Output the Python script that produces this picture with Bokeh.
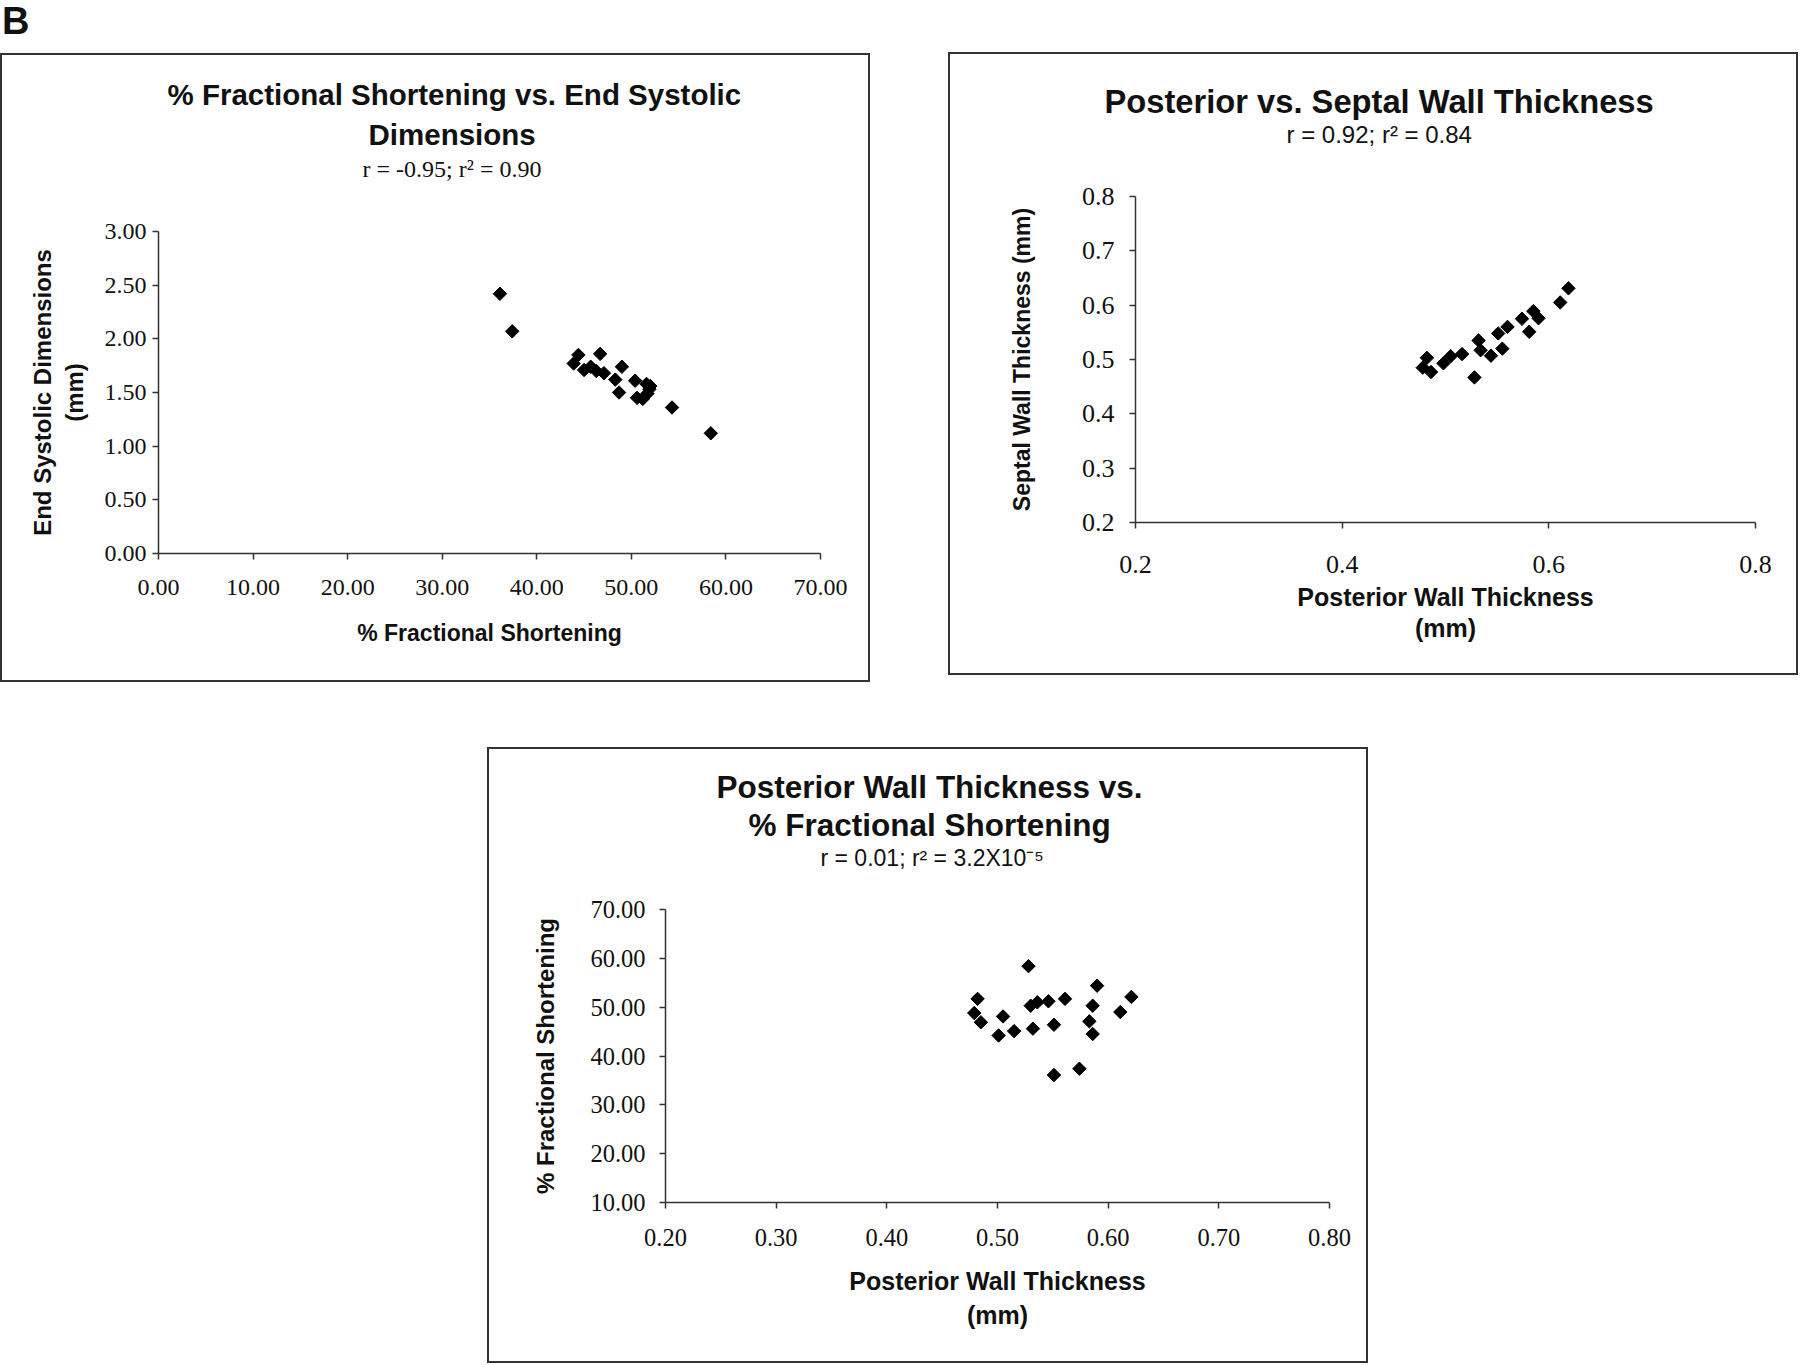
import math
from bokeh.plotting import figure
from bokeh.models import (Range1d, FixedTicker, PrintfTickFormatter, Title, Div,
                          Spacer, LinearAxis)
from bokeh.layouts import row, column
from bokeh.embed import file_html
from bokeh.resources import INLINE

# ---------------- data ----------------
# Chart 1: % Fractional Shortening vs End Systolic Dimensions
fs_1 = [36.1, 37.4, 43.9, 44.4, 45.0, 45.7, 46.3, 46.7, 47.1, 48.3, 48.7,
        49.0, 50.4, 50.6, 51.2, 51.6, 51.9, 51.7, 52.0, 54.3, 58.4]
esd_1 = [2.42, 2.07, 1.77, 1.85, 1.71, 1.74, 1.70, 1.86, 1.68, 1.62, 1.50,
         1.74, 1.61, 1.45, 1.44, 1.58, 1.53, 1.49, 1.56, 1.36, 1.12]

# Chart 2: Posterior vs Septal wall thickness
pwt_2 = [0.482, 0.478, 0.486, 0.498, 0.505, 0.516, 0.528, 0.532, 0.534, 0.544,
         0.551, 0.555, 0.560, 0.574, 0.585, 0.590, 0.581, 0.611, 0.619]
swt_2 = [0.503, 0.485, 0.477, 0.493, 0.506, 0.510, 0.467, 0.535, 0.517, 0.507,
         0.548, 0.520, 0.560, 0.575, 0.589, 0.576, 0.551, 0.605, 0.631]

# Chart 3: Posterior wall thickness vs % fractional shortening
pwt_3 = [0.528, 0.482, 0.479, 0.485, 0.505, 0.501, 0.515, 0.530, 0.536, 0.532,
         0.546, 0.551, 0.551, 0.561, 0.574, 0.583, 0.586, 0.586, 0.590, 0.611, 0.621]
fs_3 = [58.4, 51.7, 48.8, 46.9, 48.1, 44.2, 45.1, 50.3, 51.0, 45.6,
        51.2, 46.4, 36.1, 51.7, 37.4, 47.1, 44.5, 50.3, 54.4, 49.0, 52.1]

x1_ticks = [0, 10, 20, 30, 40, 50, 60, 70]
y1_ticks = [0.0, 0.5, 1.0, 1.5, 2.0, 2.5, 3.0]
x2_ticks = [0.2, 0.4, 0.6, 0.8]
y2_ticks = [0.2, 0.3, 0.4, 0.5, 0.6, 0.7, 0.8]
x3_ticks = [0.2, 0.3, 0.4, 0.5, 0.6, 0.7, 0.8]
y3_ticks = [10, 20, 30, 40, 50, 60, 70]

SANS = "Liberation Sans"
SERIF = "Liberation Serif"
BOX = {"outline": "2px solid #333", "outline-offset": "-2px"}


def make_fig(w, h, bl, br, bt, bb, xr, yr):
    p = figure(width=w, height=h, x_range=Range1d(*xr), y_range=Range1d(*yr),
               output_backend="svg", toolbar_location=None, title=None,
               min_border_left=bl, min_border_right=br,
               min_border_top=bt, min_border_bottom=bb, styles=BOX)
    p.border_fill_color = None
    p.background_fill_color = None
    p.outline_line_color = None
    p.xgrid.visible = False
    p.ygrid.visible = False
    for ax in (p.xaxis[0], p.yaxis[0]):
        ax.axis_line_color = "#333333"
        ax.axis_line_width = 1.5
        ax.major_tick_line_color = "#333333"
        ax.major_tick_line_width = 1.5
        ax.major_tick_in = 0
        ax.major_tick_out = 6
        ax.minor_tick_line_color = None
        ax.major_label_text_color = "#111111"
        ax.axis_label_text_color = "#111111"
        ax.axis_label_text_font = SANS
        ax.axis_label_text_font_style = "bold"
        ax.major_label_text_font = SERIF
    return p


def style_axes(p, tick_size, xlab_size, ylab_size, xls, xas, yls, yas, fmt,
               xlh=1.2, ylh=1.2):
    p.xaxis.major_label_text_font_size = tick_size
    p.yaxis.major_label_text_font_size = tick_size
    p.xaxis.axis_label_text_font_size = xlab_size
    p.yaxis.axis_label_text_font_size = ylab_size
    p.xaxis.major_label_standoff = xls
    p.xaxis.axis_label_standoff = xas
    p.yaxis.major_label_standoff = yls
    p.yaxis.axis_label_standoff = yas
    p.xaxis.formatter = PrintfTickFormatter(format=fmt[0])
    p.yaxis.formatter = PrintfTickFormatter(format=fmt[1])
    p.xaxis.axis_label_text_line_height = xlh
    p.yaxis.axis_label_text_line_height = ylh


def add_titles(p, gap, lines):
    # invisible spacer between the frame and the subtitle: one white tick at
    # the left end of the range, no axis line, labels not drawn
    start = p.x_range.start
    sp = LinearAxis(ticker=FixedTicker(ticks=[start]), axis_line_color=None,
                    major_tick_line_color="white", major_tick_line_width=1,
                    minor_tick_line_color=None,
                    major_tick_in=0, major_tick_out=gap, minor_tick_in=0,
                    minor_tick_out=0, major_label_standoff=0,
                    major_label_text_color=None,
                    major_label_text_font_size="1px")
    p.add_layout(sp, "above")
    # lines listed from the one nearest the plot upward
    for text, font, size, style, standoff, offset in lines:
        p.add_layout(Title(text=text, align="left", offset=offset,
                           text_font=font, text_font_size=size,
                           text_font_style=style, text_color="#111111",
                           standoff=standoff), "above")


# ---------------- chart 1 ----------------
p1 = make_fig(870, 629, 158, 50, 178, 129, (0, 70), (0, 3))
p1.scatter(fs_1, esd_1, marker="square", size=9.5, angle=math.pi / 4,
           color="black")
p1.xaxis.ticker = FixedTicker(ticks=x1_ticks)
p1.yaxis.ticker = FixedTicker(ticks=y1_ticks)
p1.xaxis.axis_label = "% Fractional Shortening"
p1.yaxis.axis_label = "End Systolic Dimensions\n(mm)"
style_axes(p1, "24px", "23px", "24px", 20, 22, 6, 14, ("%.2f", "%.2f"),
           ylh=1.15)
add_titles(p1, 50, [
    ("r = -0.95; r\u00b2 = 0.90", SERIF, "24px", "normal", 0, 204),
    ("Dimensions", SANS, "29.5px", "bold", 5, 210),
    ("% Fractional Shortening vs. End Systolic", SANS, "29.5px", "bold", 5, 9),
])

# ---------------- chart 2 ----------------
p2 = make_fig(850, 623, 187, 43, 144, 153, (0.2, 0.8), (0.2, 0.8))
p2.scatter(pwt_2, swt_2, marker="square", size=9.5, angle=math.pi / 4,
           color="black")
p2.xaxis.ticker = FixedTicker(ticks=x2_ticks)
p2.yaxis.ticker = FixedTicker(ticks=y2_ticks)
p2.xaxis.axis_label = "Posterior Wall Thickness\n(mm)"
p2.yaxis.axis_label = "Septal Wall Thickness (mm)"
style_axes(p2, "26px", "25px", "23px", 27, 7, 15, 44, ("%.1f", "%.1f"),
           xlh=1.11)
add_titles(p2, 49, [
    ("r = 0.92; r\u00b2 = 0.84", SANS, "24px", "normal", 0, 151),
    ("Posterior vs. Septal Wall Thickness", SANS, "32.7px", "bold", -2, -31),
])

# ---------------- chart 3 ----------------
p3 = make_fig(881, 616, 178, 39, 162, 161, (0.2, 0.8), (10, 70))
p3.scatter(pwt_3, fs_3, marker="square", size=9.5, angle=math.pi / 4,
           color="black")
p3.xaxis.ticker = FixedTicker(ticks=x3_ticks)
p3.yaxis.ticker = FixedTicker(ticks=y3_ticks)
p3.xaxis.axis_label = "Posterior Wall Thickness\n(mm)"
p3.yaxis.axis_label = "% Fractional Shortening"
style_axes(p3, "24.5px", "25px", "24px", 20, 18, 14, 28, ("%.2f", "%.2f"),
           xlh=1.22)
add_titles(p3, 39, [
    ("r = 0.01; r\u00b2 = 3.2X10\u207b\u2075", SANS, "23px", "normal", 0, 155),
    ("% Fractional Shortening", SANS, "31.5px", "bold", 0, 83),
    ("Posterior Wall Thickness vs.", SANS, "31.5px", "bold", 0, 51),
])

label_b = Div(text='<span style="position:relative;left:2px">B</span>',
              width=870, height=53, margin=(0, 0, 0, 0),
              styles={"font-family": SANS, "font-weight": "bold",
                      "font-size": "38px", "line-height": "1.15",
                      "color": "#111111"})

top = row(column(label_b, p1), Spacer(width=78, height=10),
          column(Spacer(width=10, height=52), p2))
bottom = row(Spacer(width=487, height=10), p3)
layout = column(top, Spacer(width=10, height=65), bottom)

open("out.html", "w").write(file_html(layout, INLINE))
